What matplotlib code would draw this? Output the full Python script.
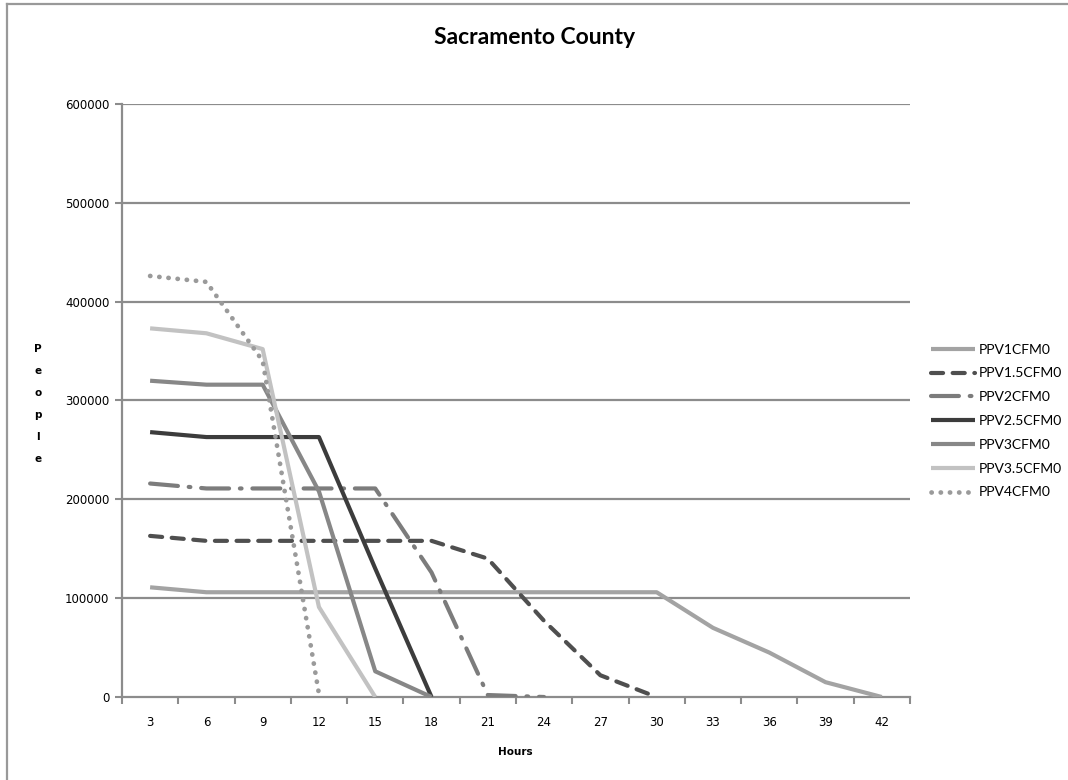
import matplotlib
matplotlib.use("Agg")
import matplotlib.pyplot as plt
from matplotlib.lines import Line2D

# horas (eje de categorias)
horas = [3, 6, 9, 12, 15, 18, 21, 24, 27, 30, 33, 36, 39, 42]

series = ["PPV1CFM0", "PPV1.5CFM0", "PPV2CFM0", "PPV2.5CFM0",
          "PPV3CFM0", "PPV3.5CFM0", "PPV4CFM0"]

ppv1 = [111000, 106000, 106000, 106000, 106000, 106000, 106000, 106000,
        106000, 106000, 70000, 45000, 15000, 0]
ppv15 = [163000, 158000, 158000, 158000, 158000, 158000, 140000, 77000,
         22000, 0]
ppv2 = [216000, 211000, 211000, 211000, 211000, 126000, 2000, 0]
ppv25 = [268000, 263000, 263000, 263000, 130000, 0]
ppv3 = [320000, 316000, 316000, 208000, 26000, 0]
ppv35 = [373000, 368000, 352000, 91000, 0]
ppv4 = [426000, 420000, 340000, 3000]

valores = [ppv1, ppv15, ppv2, ppv25, ppv3, ppv35, ppv4]

colores = ["#a3a3a3", "#4f4f4f", "#7c7c7c", "#3c3c3c", "#878787", "#c2c2c2", "#9a9a9a"]
estilos = ["-", (0, (2.9, 2.3)), (0, (6.7, 2.6, 0.4, 2.6)), "-", "-", "-", (0, (0.05, 1.9))]
anchos = [3, 3, 3, 3, 3, 3, 3.4]

fig = plt.figure(figsize=(10.68, 7.8), dpi=100)
ax = fig.add_axes([0.1142, 0.1064, 0.7378, 0.7603])

gris = "#8c8c8c"
for y in range(100000, 600001, 100000):
    ax.axhline(y, color=gris, lw=1.6, zorder=1)

for nombre, vals, c, ls, lw in zip(series, valores, colores, estilos, anchos):
    xs = list(range(len(vals)))
    ax.plot(xs, vals, color=c, linestyle=ls, lw=lw, label=nombre,
            solid_capstyle="butt", dash_capstyle="round", zorder=3)

ax.set_xlim(-0.5, len(horas) - 0.5)
ax.set_ylim(0, 600000)
ax.set_xticks(range(len(horas)))
ax.set_xticklabels([str(h) for h in horas])
ax.set_xticks([i - 0.5 for i in range(len(horas) + 1)], minor=True)
ax.tick_params(axis="x", which="major", length=0, pad=14, labelsize=8.5)
ax.tick_params(axis="x", which="minor", length=5, width=1.5, color=gris, direction="out")
ax.set_yticks(range(0, 600001, 100000))
ax.tick_params(axis="y", length=5, width=1.5, color=gris, direction="out", pad=4, labelsize=8.5)

for s in ["top", "right"]:
    ax.spines[s].set_visible(False)
for s in ["left", "bottom"]:
    ax.spines[s].set_color(gris)
    ax.spines[s].set_linewidth(1.6)

fig.text(0.5003, 1 - 37 / 780, "Sacramento County", ha="center", va="center",
         fontsize=16.5, fontweight="bold", family="Lato")
fig.text(515 / 1068, 1 - 752 / 780, "Hours", ha="center", va="center",
         fontsize=7.5, fontweight="bold")
for i, letra in enumerate("People"):
    fig.text(38 / 1068, 1 - (349 + i * 22) / 780, letra, ha="center", va="center",
             fontsize=7.5, fontweight="bold")

handles, labels = ax.get_legend_handles_labels()
leg = fig.legend(handles, labels, loc="center left", bbox_to_anchor=(925 / 1068, 1 - 421 / 780),
                 frameon=False, prop={"family": "Lato", "size": 10}, handlelength=3.2,
                 handletextpad=0.3, labelspacing=0.85, borderaxespad=0)

# marco exterior del grafico
fig.add_artist(Line2D([7 / 1068, 1], [1 - 4 / 780, 1 - 4 / 780], color="#999999", lw=1.6))
fig.add_artist(Line2D([7 / 1068, 7 / 1068], [0, 1 - 4 / 780], color="#999999", lw=1.6))

fig.savefig("out.png", dpi=100)
